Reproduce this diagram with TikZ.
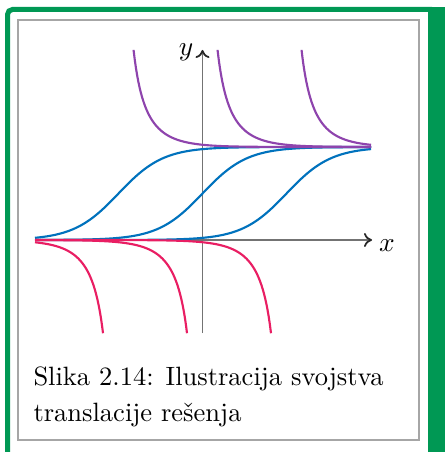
\documentclass[tikz,border=0pt]{standalone}
\usepackage{fontspec}
\usetikzlibrary{arrows.meta}
\definecolor{frameG}{RGB}{0,152,84}
\definecolor{cBlue}{RGB}{0,114,189}
\definecolor{cPurple}{RGB}{142,68,173}
\definecolor{cPink}{RGB}{233,30,99}
\begin{document}
\begin{tikzpicture}[x=0.4pt,y=-0.4pt,
  curve/.style={line width=0.85pt},
  axis/.style={line width=0.7pt, draw=black!55, -{To[length=3.2pt,width=5.6pt,color=black!85]}},
  txt/.style={font=\fontsize{10.6pt}{12pt}\selectfont, inner sep=0pt},
  declare function={fsig(\t)=1/(1+exp(min(9,-\t))); finv(\t)=1/(1-exp(min(9,-\t)));}
]
\useasboundingbox (0,0) rectangle (445,452);
% frame
\draw[frameG, line width=2pt, rounded corners=2pt] (7.5,452) -- (7.5,9.5) -- (432,9.5);
\fill[frameG] (428,7) rectangle (445,452);
\draw[black!35, line width=0.45pt, fill=white] (18,20) rectangle (419,440);
% axes
\coordinate (xs) at (35,240);
\coordinate (xe) at (372,240);
\coordinate (ys) at (202.5,333);
\coordinate (ye) at (202.5,50);
\draw[axis] (xs) -- (xe);
\draw[axis] (ys) -- (ye);
% curves
\foreach \a in {118.5,202.5,286.5}{
  \draw[curve,cBlue] plot[domain=35:371,samples=170] (\x,{240-93*fsig((\x-\a)/22.4)});
}
\foreach \a in {118.5,202.5,286.5}{
  \pgfmathsetmacro{\pst}{\a+15.05}
  \draw[curve,cPurple] plot[domain=\pst:371,samples=200] (\x,{240-93*finv((\x-\a)/22.4)});
}
\foreach \a in {118.5,202.5,286.5}{
  \pgfmathsetmacro{\pen}{\a-15.5}
  \draw[curve,cPink] plot[domain=35:\pen,samples=200] (\x,{240-93*finv((\x-\a)/22.4)});
}
% labels
\node[txt] (ylab) at (186,52) {$y$};
\node[txt] (xlab) at (387,246) {$x$};
\node[txt, anchor=base west] (l1) at (33,385) {\hbox to 140pt{Slika 2.14: Ilustracija svojstva}};
\node[txt, anchor=base west] (l2) at (33,421) {translacije rešenja};
\end{tikzpicture}
\end{document}
